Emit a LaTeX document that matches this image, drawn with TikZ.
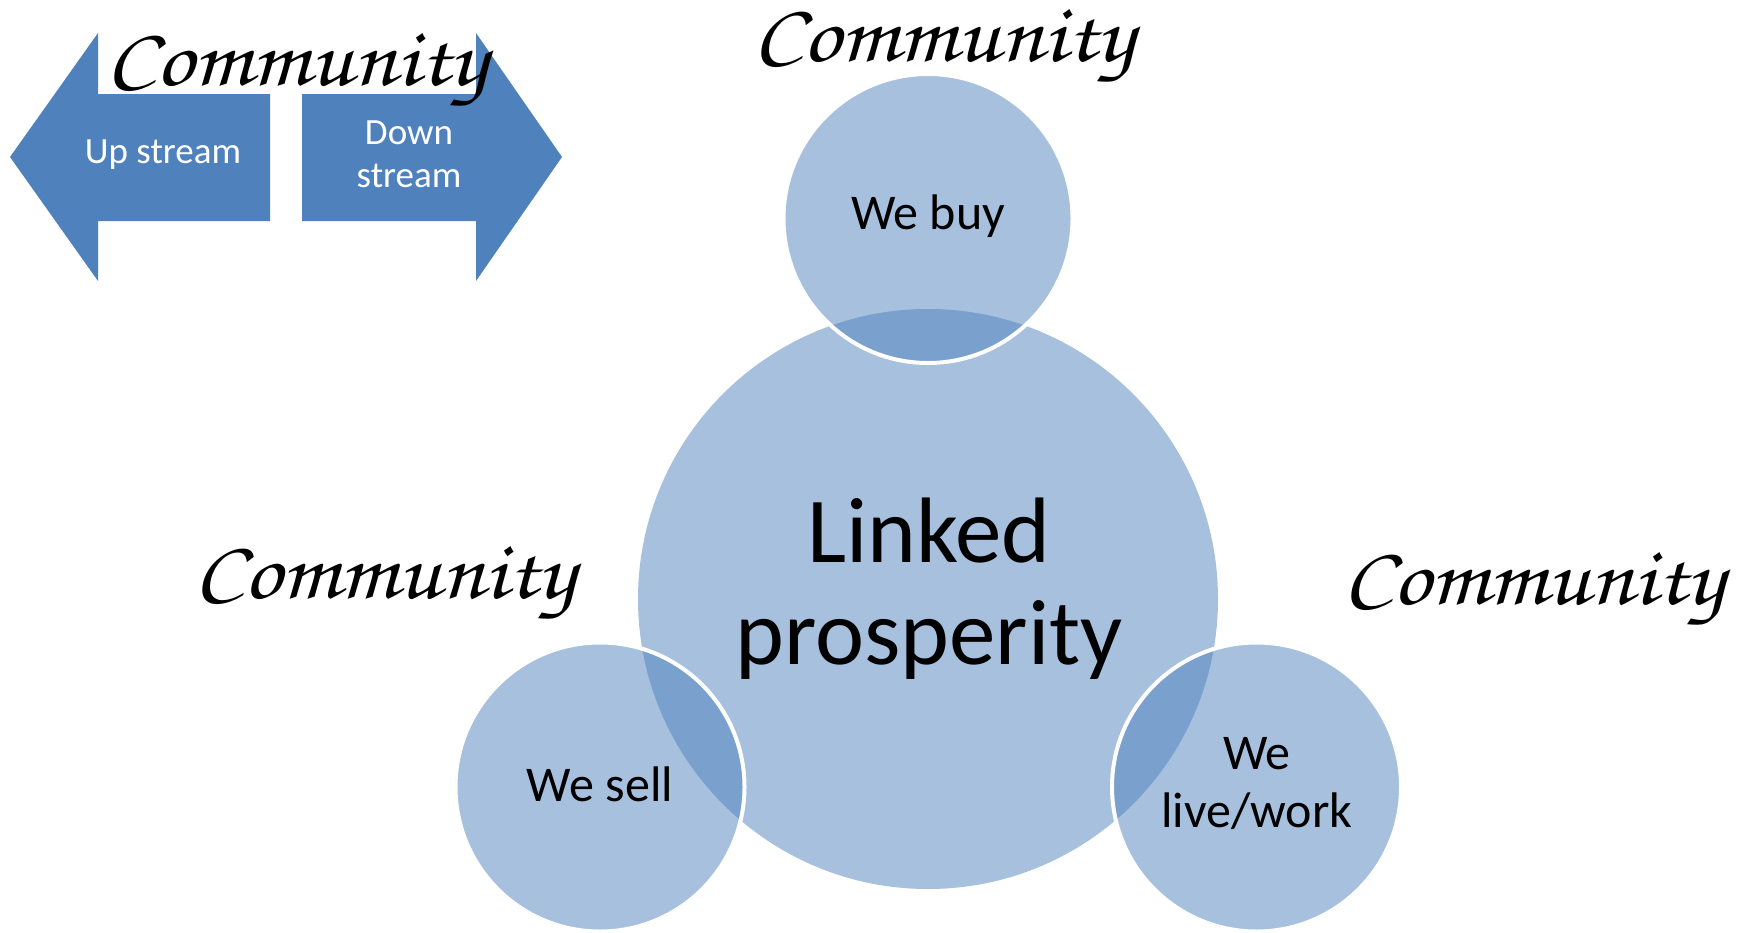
\documentclass[tikz,border=0pt]{standalone}
\usepackage{fontspec}
\setmainfont{Carlito}
\newfontfamily\handfont{texgyrechorus-mediumitalic.otf}
\definecolor{arrowblue}{HTML}{4F81BD}
\definecolor{circblue}{HTML}{A7C0DE}
\begin{document}
\begin{tikzpicture}[x=1pt,y=-1pt,
  bigc/.style={circle,fill=circblue,minimum size=580pt,inner sep=0pt},
  smallc/.style={circle,fill=arrowblue,fill opacity=0.5,draw=white,draw opacity=1,line width=4pt,minimum size=289pt,inner sep=0pt},
  comm/.style={anchor=base,inner sep=0pt,font=\handfont},
  armtext/.style={text=white,font=\fontsize{37}{43}\selectfont,align=center},
  circtext/.style={font=\fontsize{50}{58}\selectfont,align=center}]
\useasboundingbox (0,0) rectangle (1739,932);
% arrows
\fill[arrowblue] (10,157) -- (98,33) -- (98,94) -- (270,94) -- (270,221) -- (98,221) -- (98,281) -- cycle;
\fill[arrowblue] (562,157) -- (476,33) -- (476,94) -- (302,94) -- (302,221) -- (476,221) -- (476,281) -- cycle;
\node[armtext] (up) at (163,155) {Up stream};
\node[armtext] (down) at (409,154) {Down\\stream};
% circles
\node[bigc] (big) at (928,599) {};
\node[smallc] (buy) at (928,218.5) {};
\node[smallc] (sell) at (600,787) {};
\node[smallc] (live) at (1256.5,787) {};
\node[font=\fontsize{93}{102}\selectfont,align=center] (linked) at (929,589) {Linked\\prosperity};
\node[circtext] (tbuy) at (928,216) {We buy};
\node[circtext] (tsell) at (600,784) {We sell};
\node[circtext] (tlive) at (1257,784) {We\\live/work};
% community labels
\node[comm] (c1) at (297,85) {\resizebox{380pt}{52pt}{Community}};
\node[comm] (c2) at (944,61) {\resizebox{380pt}{52pt}{Community}};
\node[comm] (c3) at (385,598) {\resizebox{380pt}{52pt}{Community}};
\node[comm] (c4) at (1534,604) {\resizebox{380pt}{52pt}{Community}};
\end{tikzpicture}
\end{document}
